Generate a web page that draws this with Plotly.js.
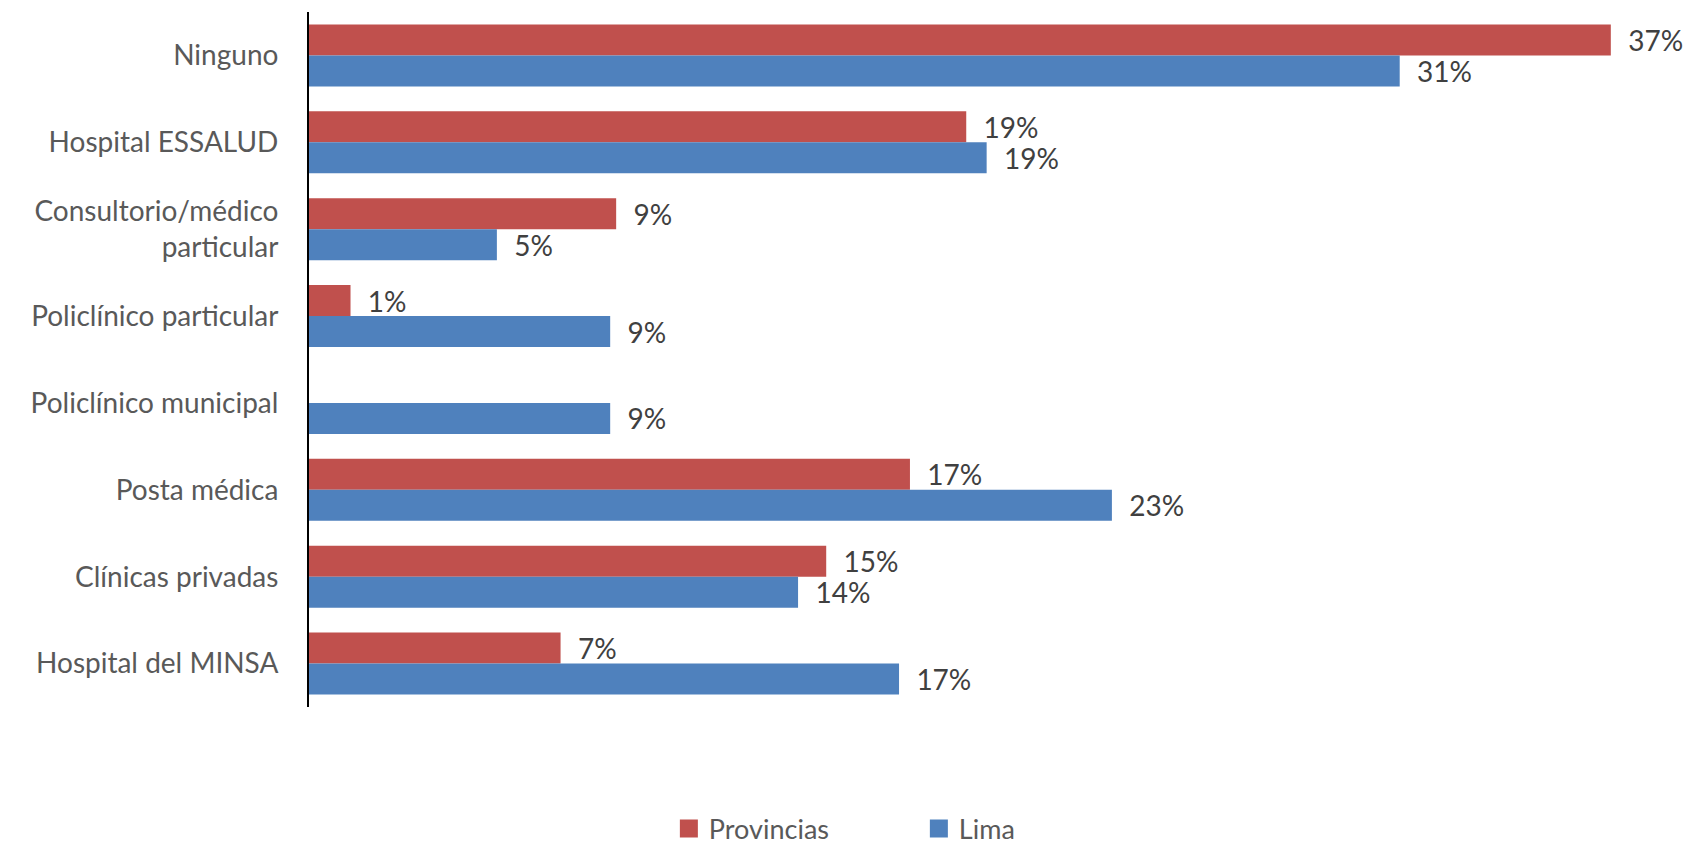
<!DOCTYPE html>
<html>
<head>
<meta charset="utf-8">
<script src="https://cdn.plot.ly/plotly-3.0.1.min.js"></script>
<style>html,body{margin:0;padding:0;background:#fff;}#chart{width:1686px;height:845px;}</style>
</head>
<body>
<div id="chart"></div>
<script>
const categories = ["Ninguno", "Hospital ESSALUD", "Consultorio/médico<br>particular", "Policlínico particular", "Policlínico municipal", "Posta médica", "Clínicas privadas", "Hospital del MINSA"];
const provincias = [37.0, 18.68, 8.73, 1.18, null, 17.08, 14.70, 7.15];
const lima = [31.0, 19.26, 5.34, 8.56, 8.56, 22.82, 13.90, 16.77];
const seriesNames = ["Provincias", "Lima"];
const colors = ["#C0504D", "#4F81BD"];

const labelFont = {family: "Lato, 'Open Sans', sans-serif", size: 28, color: "#404040"};
function trace(vals, i) {
  return {
    type: "bar", orientation: "h", name: seriesNames[i],
    y: categories, x: vals,
    marker: {color: colors[i]},
    texttemplate: "\u00a0\u00a0%{x:.0f}%", textposition: "outside",
    textfont: labelFont, constraintext: "none", cliponaxis: false,
    hoverinfo: "skip"
  };
}
const data = [trace(provincias, 0), trace(lima, 1)];
const layout = {
  width: 1686, height: 845,
  margin: {l: 309, r: 40, t: 12, b: 138, autoexpand: false},
  paper_bgcolor: "#fff", plot_bgcolor: "#fff",
  barmode: "group", bargap: 0.287, bargroupgap: 0,
  font: {family: "Lato, 'Open Sans', sans-serif", size: 28, color: "#595959"},
  xaxis: {visible: false, range: [0, 38], fixedrange: true},
  yaxis: {autorange: "reversed", showline: true, linecolor: "#000", linewidth: 2,
          ticks: "", showgrid: false, zeroline: false, ticklabelstandoff: 23,
          tickfont: {family: "Lato, 'Open Sans', sans-serif", size: 28, color: "#595959"}},
  showlegend: true,
  legend: {orientation: "h", xref: "container", yref: "container",
           x: 0.545, xanchor: "center", y: 0.019, yanchor: "middle",
           font: {family: "Lato, 'Open Sans', sans-serif", size: 27, color: "#595959"},
           entrywidth: 205, traceorder: "normal"}
};
Plotly.newPlot("chart", data, layout, {staticPlot: true}).then(function(gd) {
  gd.querySelectorAll(".legend .legendpoints path").forEach(function(p) {
    p.setAttribute("d", "M9,9H-9V-9H9Z");
  });
});
</script>
</body>
</html>
